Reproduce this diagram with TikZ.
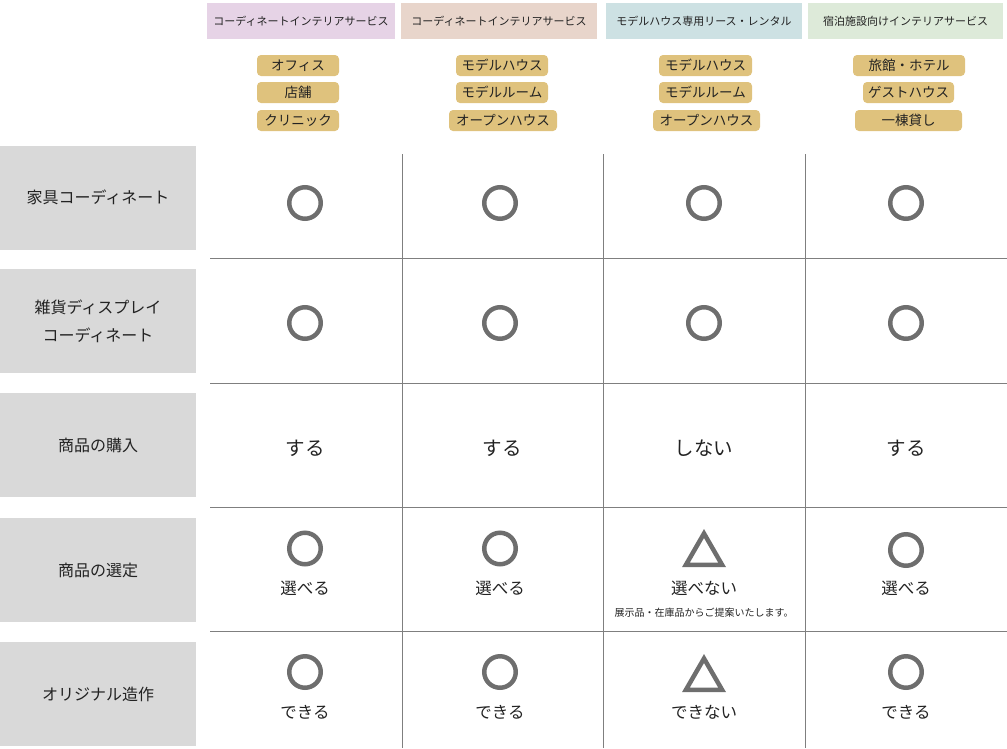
\documentclass[tikz,border=0pt]{standalone}
\usepackage{fontspec}
\setmainfont{Noto Sans CJK JP}
\usetikzlibrary{shapes.geometric}
\usetikzlibrary{positioning}
\definecolor{headA}{HTML}{E6D3E6}
\definecolor{headB}{HTML}{E8D5CB}
\definecolor{headC}{HTML}{CDE1E3}
\definecolor{headD}{HTML}{DDEAD9}
\definecolor{tagfill}{HTML}{DFC27D}
\definecolor{lblgray}{HTML}{D9D9D9}
\definecolor{rulegray}{HTML}{7F7F7F}
\definecolor{markgray}{HTML}{6E6E6E}
\definecolor{ink}{HTML}{222222}
\tikzset{
    headcell/.style = {rectangle, minimum height=36pt, inner sep=0pt, text=ink, font=\fontsize{11}{13}\selectfont},
    tagbox/.style = {rectangle, rounded corners=4pt, fill=tagfill, minimum height=21pt, inner sep=0pt, text=ink, font=\fontsize{13.5}{15}\selectfont},
    rowhead/.style = {rectangle, fill=lblgray, minimum width=196pt, minimum height=104pt, inner sep=0pt, align=center, text=ink, font=\fontsize{16}{28}\selectfont},
    maru/.style = {circle, draw=markgray, line width=4.5pt, minimum size=31.5pt, inner sep=0pt},
    sankaku/.style = {regular polygon, regular polygon sides=3, draw=markgray, line width=4.5pt, minimum size=41.8pt, inner sep=0pt},
    bigword/.style = {inner sep=0pt, text=ink, font=\fontsize{19.5}{22}\selectfont},
    word/.style = {inner sep=0pt, text=ink, font=\fontsize{16.5}{19}\selectfont},
    note/.style = {inner sep=0pt, text=ink, font=\fontsize{10}{12}\selectfont},
    rule/.style = {draw=rulegray, line width=1pt}
}
\begin{document}
\begin{tikzpicture}[x=1pt,y=-1pt]
  \useasboundingbox (0,0) rectangle (1007,748);

  % column heads
  \node[headcell, fill=headA, minimum width=188pt] (h1) at (301,21) {コーディネートインテリアサービス};
  \node[headcell, fill=headB, minimum width=196pt] (h2) at (499,21) {コーディネートインテリアサービス};
  \node[headcell, fill=headC, minimum width=196pt] (h3) at (704,21) {モデルハウス専用リース・レンタル};
  \node[headcell, fill=headD, minimum width=195pt] (h4) at (905.5,21) {宿泊施設向けインテリアサービス};

  % tags
  \node[tagbox, minimum width=82pt] (t11) at (298,65.5) {オフィス};
  \node[tagbox, minimum width=82pt] (t12) at (298,92.5) {店舗};
  \node[tagbox, minimum width=82pt] (t13) at (298,120.5) {クリニック};
  \node[tagbox, minimum width=92pt] (t21) at (502,65.5) {モデルハウス};
  \node[tagbox, minimum width=92pt] (t22) at (502,92.5) {モデルルーム};
  \node[tagbox, minimum width=108pt] (t23) at (503,120.5) {オープンハウス};
  \node[tagbox, minimum width=93pt] (t31) at (705.5,65.5) {モデルハウス};
  \node[tagbox, minimum width=93pt] (t32) at (705.5,92.5) {モデルルーム};
  \node[tagbox, minimum width=107pt] (t33) at (706.5,120.5) {オープンハウス};
  \node[tagbox, minimum width=112pt] (t41) at (909,65.5) {旅館・ホテル};
  \node[tagbox, minimum width=91pt] (t42) at (908.5,92.5) {ゲストハウス};
  \node[tagbox, minimum width=107pt] (t43) at (908.5,120.5) {一棟貸し};

  % row heads
  \node[rowhead] (r1) at (98,197.5) {家具コーディネート};
  \node[rowhead] (r2) at (98,321) {雑貨ディスプレイ\\コーディネート};
  \node[rowhead] (r3) at (98,445) {商品の購入};
  \node[rowhead] (r4) at (98,570) {商品の選定};
  \node[rowhead] (r5) at (98,694) {オリジナル造作};

  % table rules
  \draw[rule] (402,154) -- (402,748);
  \draw[rule] (603,154) -- (603,748);
  \draw[rule] (805,154) -- (805,748);
  \draw[rule] (210,258) -- (1007,258);
  \draw[rule] (210,383) -- (1007,383);
  \draw[rule] (210,507) -- (1007,507);
  \draw[rule] (210,631) -- (1007,631);

  % furniture / display
  \node[maru] (m11) at (305,203) {};
  \node[maru] (m12) at (500,203) {};
  \node[maru] (m13) at (704,203) {};
  \node[maru] (m14) at (906,203) {};
  \node[maru] (m21) at (305,323) {};
  \node[maru] (m22) at (500,323) {};
  \node[maru] (m23) at (704,323) {};
  \node[maru] (m24) at (906,323) {};

  % purchase
  \node[bigword] (w31) at (305,448) {する};
  \node[bigword] (w32) at (502,448) {する};
  \node[bigword] (w33) at (704,448) {しない};
  \node[bigword] (w34) at (906,448) {する};

  % selection
  \node[maru] (m41) at (305,548.5) {};
  \node[maru] (m42) at (500,548.5) {};
  \node[sankaku] (m43) at (704,554.4) {};
  \node[maru] (m44) at (906,550) {};
  \node[word] (w41) at (305,588) {選べる};
  \node[word] (w42) at (500,588) {選べる};
  \node[word] (w43) at (704,588) {選べない};
  \node[word] (w44) at (906,588) {選べる};
  \node[note] (n43) at (704,613) {展示品・在庫品からご提案いたします。};

  % original work
  \node[maru] (m51) at (305,672) {};
  \node[maru] (m52) at (500,672) {};
  \node[sankaku] (m53) at (704,679.4) {};
  \node[maru] (m54) at (906,672) {};
  \node[word] (w51) at (305,712) {できる};
  \node[word] (w52) at (500,712) {できる};
  \node[word] (w53) at (704,712) {できない};
  \node[word] (w54) at (906,712) {できる};
\end{tikzpicture}
\end{document}
